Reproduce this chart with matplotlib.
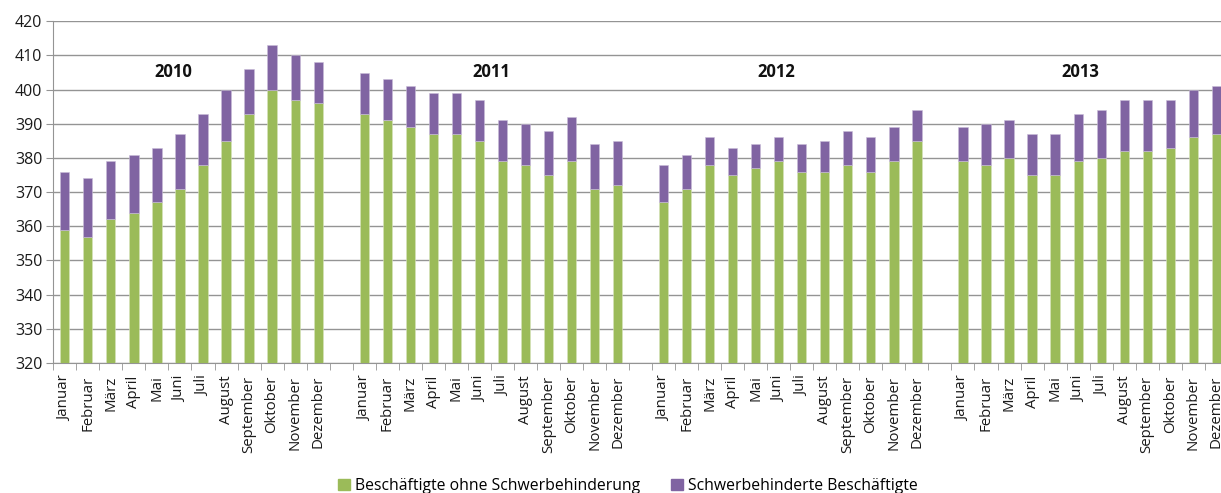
import numpy as np
import matplotlib
matplotlib.use("Agg")
import matplotlib.pyplot as plt
from matplotlib.patches import Patch

# Daten (Tausend Beschäftigte), gelesen aus dem Bild
monate = ['Januar', 'Februar', 'März', 'April', 'Mai', 'Juni', 'Juli',
          'August', 'September', 'Oktober', 'November', 'Dezember']
jahre = ['2010', '2011', '2012', '2013']

ohne_2010 = [359, 357, 362, 364, 367, 371, 378, 385, 393, 400, 397, 396]
ohne_2011 = [393, 391, 389, 387, 387, 385, 379, 378, 375, 379, 371, 372]
ohne_2012 = [367, 371, 378, 375, 377, 379, 376, 376, 378, 376, 379, 385]
ohne_2013 = [379, 378, 380, 375, 375, 379, 380, 382, 382, 383, 386, 387]

gesamt_2010 = [376, 374, 379, 381, 383, 387, 393, 400, 406, 413, 410, 408]
gesamt_2011 = [405, 403, 401, 399, 399, 397, 391, 390, 388, 392, 384, 385]
gesamt_2012 = [378, 381, 386, 383, 384, 386, 384, 385, 388, 386, 389, 394]
gesamt_2013 = [389, 390, 391, 387, 387, 393, 394, 397, 397, 397, 400, 401]

# Position der Jahreslabels (in Slot-Einheiten) und Höhe
jahr_x = [5.2, 19.0, 31.4, 44.6]
jahr_y = 405.3

gruen = '#9BBB59'
lila = '#8064A2'

ohne = [ohne_2010, ohne_2011, ohne_2012, ohne_2013]
gesamt = [gesamt_2010, gesamt_2011, gesamt_2012, gesamt_2013]

fig = plt.figure(figsize=(12.21, 4.93), dpi=100)
ax = fig.add_axes([53.3 / 1221, 1 - 363 / 493, 51 * 23.03 / 1221, (363 - 21.3) / 493])

basis = 320
pos = []
labels = []
for j in range(4):
    x = np.arange(12) + j * 13 + 0.5
    g = np.array(ohne[j])
    s = np.array(gesamt[j]) - g
    ax.bar(x, g - basis, bottom=basis, width=0.4, color=gruen,
           edgecolor='#d8e4bc', linewidth=0.4, zorder=3)
    ax.bar(x, s, bottom=g, width=0.4, color=lila,
           edgecolor='#c8bcd8', linewidth=0.4, zorder=3)
    pos.extend(x)
    labels.extend(monate)
    ax.text(jahr_x[j], jahr_y, jahre[j], ha='center', va='center',
            fontsize=12, fontweight='bold', color='#111111', family='Open Sans')

ax.set_xlim(0, 51)
ax.set_ylim(320, 420)
ax.set_yticks(np.arange(320, 421, 10))
ax.grid(axis='y', color='#949494', linewidth=1.0, zorder=0)

ax.set_xticks(pos)
ax.set_xticklabels(labels, rotation=90, fontsize=10.8, color='#1a1a1a', family='Open Sans')
ax.set_xticks(np.arange(0, 52), minor=True)
ax.tick_params(axis='x', which='major', length=0, pad=9)
ax.tick_params(axis='x', which='minor', length=5, color='#949494', direction='out')
ax.tick_params(axis='y', length=5, color='#949494', pad=3, labelsize=11.5, labelcolor='#1a1a1a')
for t in ax.get_yticklabels():
    t.set_family('Open Sans')

for sp in ['top', 'right']:
    ax.spines[sp].set_visible(False)
ax.spines['left'].set_color('#949494')
ax.spines['bottom'].set_color('#949494')

handles = [Patch(color=gruen, label='Beschäftigte ohne Schwerbehinderung'),
           Patch(color=lila, label='Schwerbehinderte Beschäftigte')]
fig.legend(handles=handles, loc='center', bbox_to_anchor=(628 / 1221, 1 - 486 / 493),
           ncol=2, frameon=False, handlelength=0.75, handleheight=0.75,
           handletextpad=0.3, columnspacing=2.0, prop={'family': 'Open Sans', 'size': 11.3})

fig.savefig('out.png', dpi=100)
